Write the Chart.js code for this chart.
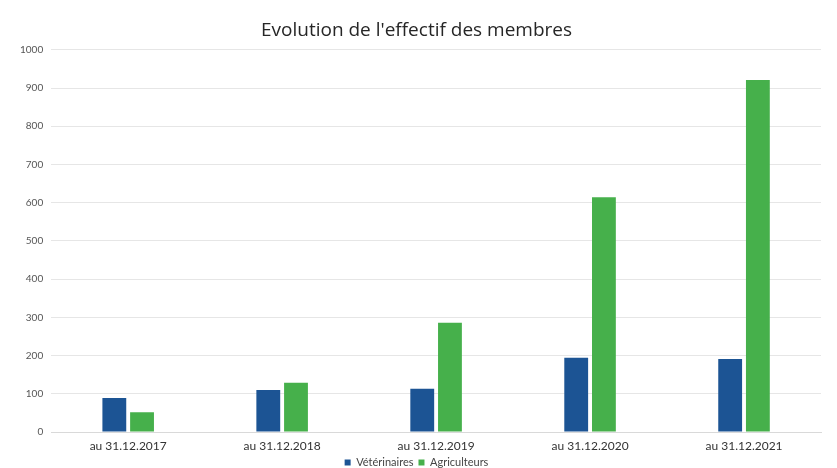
<!DOCTYPE html>
<html>
<head>
<meta charset="utf-8">
<script src="https://cdn.jsdelivr.net/npm/chart.js@4.4.1/dist/chart.umd.min.js"></script>
<style>
    html, body { margin: 0; padding: 0; background: #ffffff; }
    #wrap { width: 837px; height: 468px; position: relative; }
</style>
</head>
<body>
<div id="wrap"><canvas id="membresChart"></canvas></div>
<script>
// Data
const categories = ['au 31.12.2017', 'au 31.12.2018', 'au 31.12.2019', 'au 31.12.2020', 'au 31.12.2021'];
const veterinaires = [89, 110, 113, 194, 191];
const agriculteurs = [52, 129, 286, 614, 921];
const seriesNames = ['Vétérinaires', 'Agriculteurs'];
const yTicks = [0, 100, 200, 300, 400, 500, 600, 700, 800, 900, 1000];

document.addEventListener('DOMContentLoaded', function() {
    const ctx = document.getElementById('membresChart');

    new Chart(ctx, {
        type: 'bar',
        data: {
            labels: categories,
            datasets: [{
                label: seriesNames[0],
                data: veterinaires,
                backgroundColor: '#1c5494',
                barPercentage: 0.86,
                categoryPercentage: 0.36
            }, {
                label: seriesNames[1],
                data: agriculteurs,
                backgroundColor: '#46b04b',
                barPercentage: 0.86,
                categoryPercentage: 0.36
            }]
        },
        options: {
            responsive: true,
            maintainAspectRatio: false,
            animation: false,
            layout: {
                padding: { left: 12, right: 16, top: 15, bottom: -10 }
            },
            plugins: {
                title: {
                    display: true,
                    text: "Evolution de l'effectif des membres",
                    color: '#262626',
                    font: { family: 'Open Sans', size: 19, weight: '500' },
                    padding: { top: 4, bottom: 8 }
                },
                legend: {
                    position: 'bottom',
                    labels: {
                        boxWidth: 6,
                        boxHeight: 6,
                        padding: 5,
                        color: '#444444',
                        font: { family: 'Lato', size: 11, lineHeight: 1 }
                    }
                },
                tooltip: { enabled: false }
            },
            scales: {
                x: {
                    grid: { display: false },
                    border: { color: '#d9d9d9' },
                    ticks: {
                        color: '#333333',
                        font: { family: 'Lato', size: 12, lineHeight: 1 },
                        maxRotation: 0,
                        padding: 0
                    }
                },
                y: {
                    min: 0,
                    max: 1000,
                    afterBuildTicks: function(axis) {
                        axis.ticks = yTicks.map(v => ({ value: v }));
                    },
                    grid: { color: '#e6e6e6', drawTicks: false },
                    border: { display: false },
                    ticks: {
                        color: '#555555',
                        font: { family: 'Lato', size: 10 },
                        padding: 8,
                        callback: function(value) { return String(value); }
                    }
                }
            }
        }
    });
});
</script>
</body>
</html>
